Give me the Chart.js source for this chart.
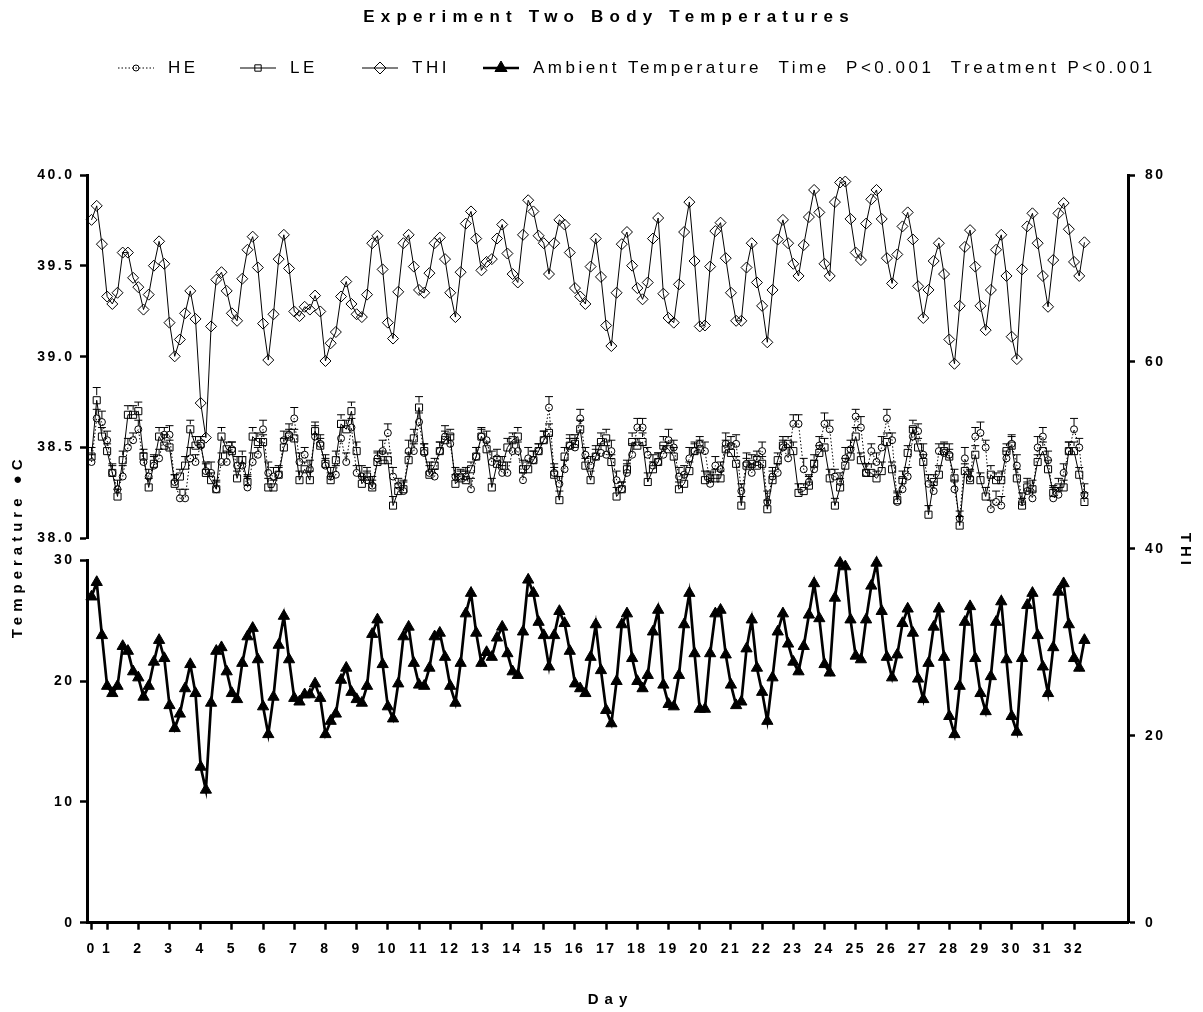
<!DOCTYPE html>
<html>
<head>
<meta charset="utf-8">
<title>Experiment Two Body Temperatures</title>
<script src="https://cdn.jsdelivr.net/npm/chart.js@4.4.1/dist/chart.umd.min.js"></script>
<style>
  html, body { margin: 0; padding: 0; background: #fff; }
</style>
</head>
<body>
<canvas id="chart" width="1203" height="1012"></canvas>
<script>
// x axis: day ticks ("0" sits at noon of the first day, where sampling starts)
const dayTicks = [0.5, 1, 2, 3, 4, 5, 6, 7, 8, 9, 10, 11, 12, 13, 14, 15, 16,
  17, 18, 19, 20, 21, 22, 23, 24, 25, 26, 27, 28, 29, 30, 31, 32];
const dayLabels = ['0', '1', '2', '3', '4', '5', '6', '7', '8', '9', '10', '11', '12', '13', '14', '15', '16',
  '17', '18', '19', '20', '21', '22', '23', '24', '25', '26', '27', '28', '29', '30', '31', '32'];

// body temperature, high-energy group (deg C)
const he = [
  38.42,38.66,38.64,38.54,38.36,38.27,38.34,38.50,38.54,38.60,
  38.42,38.34,38.40,38.44,38.57,38.57,38.31,38.22,38.22,38.44,
  38.42,38.51,38.37,38.36,38.27,38.42,38.42,38.49,38.40,38.40,
  38.28,38.42,38.46,38.60,38.36,38.34,38.35,38.54,38.57,38.66,
  38.42,38.46,38.38,38.56,38.52,38.40,38.34,38.35,38.55,38.42,
  38.61,38.36,38.34,38.32,38.29,38.44,38.48,38.58,38.34,38.29,
  38.26,38.48,38.48,38.64,38.47,38.36,38.34,38.48,38.56,38.52,
  38.34,38.34,38.34,38.27,38.45,38.56,38.54,38.42,38.44,38.36,
  38.36,38.48,38.48,38.32,38.44,38.43,38.48,38.54,38.72,38.36,
  38.30,38.38,38.51,38.50,38.66,38.46,38.40,38.45,38.47,38.46,
  38.48,38.32,38.27,38.36,38.46,38.61,38.61,38.46,38.40,38.42,
  38.46,38.54,38.50,38.34,38.35,38.44,38.48,38.52,38.48,38.30,
  38.40,38.38,38.52,38.51,38.52,38.26,38.41,38.36,38.44,38.48,
  38.20,38.34,38.36,38.50,38.44,38.63,38.63,38.38,38.31,38.38,
  38.51,38.63,38.60,38.34,38.31,38.44,38.49,38.67,38.61,38.36,
  38.48,38.42,38.50,38.66,38.54,38.20,38.27,38.34,38.56,38.59,
  38.46,38.30,38.26,38.48,38.47,38.46,38.27,38.11,38.44,38.33,
  38.56,38.58,38.50,38.16,38.20,38.18,38.44,38.52,38.40,38.20,
  38.26,38.22,38.50,38.56,38.43,38.22,38.24,38.36,38.48,38.60,
  38.50,38.24
];
const heErr = [
  0.04,0.05,0.06,0.05,0.04,0.05,0.06,0.05,0.04,0.05,
  0.05,0.04,0.06,0.05,0.04,0.05,0.04,0.05,0.05,0.06,
  0.04,0.05,0.05,0.06,0.04,0.05,0.06,0.04,0.05,0.05,
  0.06,0.05,0.04,0.05,0.06,0.05,0.04,0.05,0.06,0.06,
  0.05,0.04,0.05,0.06,0.05,0.04,0.05,0.05,0.06,0.05,
  0.05,0.04,0.06,0.05,0.05,0.04,0.06,0.05,0.05,0.04,
  0.05,0.06,0.04,0.05,0.05,0.06,0.04,0.05,0.06,0.05,
  0.05,0.04,0.05,0.06,0.05,0.04,0.05,0.06,0.05,0.04,
  0.06,0.05,0.05,0.04,0.06,0.05,0.04,0.05,0.06,0.05,
  0.04,0.05,0.06,0.05,0.05,0.04,0.05,0.06,0.05,0.05,
  0.06,0.05,0.04,0.05,0.06,0.05,0.05,0.04,0.06,0.05,
  0.05,0.06,0.04,0.05,0.05,0.06,0.05,0.04,0.05,0.06,
  0.05,0.04,0.06,0.05,0.05,0.04,0.06,0.05,0.04,0.05,
  0.06,0.05,0.05,0.04,0.06,0.05,0.05,0.06,0.04,0.05,
  0.05,0.06,0.05,0.04,0.05,0.06,0.05,0.04,0.06,0.05,
  0.04,0.05,0.06,0.05,0.04,0.05,0.06,0.05,0.05,0.04,
  0.06,0.05,0.05,0.04,0.05,0.06,0.05,0.04,0.06,0.05,
  0.05,0.06,0.04,0.05,0.06,0.05,0.04,0.05,0.06,0.05,
  0.05,0.04,0.06,0.05,0.05,0.06,0.04,0.05,0.05,0.06,
  0.05,0.06
];

// body temperature, low-energy group (deg C)
const le = [
  38.45,38.76,38.56,38.48,38.36,38.23,38.43,38.68,38.68,38.70,
  38.45,38.28,38.41,38.56,38.51,38.50,38.30,38.34,38.40,38.60,
  38.51,38.52,38.36,38.32,38.27,38.56,38.49,38.48,38.33,38.43,
  38.31,38.56,38.53,38.53,38.28,38.28,38.35,38.50,38.56,38.55,
  38.32,38.38,38.32,38.59,38.51,38.41,38.32,38.43,38.63,38.60,
  38.70,38.48,38.30,38.34,38.28,38.42,38.43,38.43,38.18,38.26,
  38.27,38.43,38.55,38.72,38.48,38.35,38.40,38.48,38.54,38.56,
  38.30,38.33,38.32,38.38,38.45,38.56,38.49,38.28,38.41,38.40,
  38.50,38.54,38.56,38.38,38.38,38.43,38.48,38.54,38.58,38.35,
  38.21,38.45,38.51,38.52,38.60,38.40,38.32,38.45,38.53,38.55,
  38.42,38.23,38.27,38.38,38.53,38.51,38.53,38.31,38.38,38.42,
  38.51,38.49,38.45,38.27,38.30,38.37,38.48,38.49,38.32,38.33,
  38.33,38.33,38.49,38.47,38.41,38.18,38.40,38.41,38.40,38.41,
  38.16,38.32,38.43,38.51,38.52,38.48,38.25,38.26,38.29,38.41,
  38.47,38.50,38.33,38.18,38.28,38.40,38.45,38.56,38.43,38.36,
  38.36,38.33,38.37,38.53,38.38,38.21,38.32,38.47,38.60,38.50,
  38.42,38.13,38.31,38.35,38.48,38.45,38.33,38.07,38.37,38.32,
  38.46,38.32,38.23,38.35,38.32,38.32,38.48,38.51,38.33,38.18,
  38.28,38.27,38.42,38.48,38.38,38.25,38.28,38.28,38.48,38.48,
  38.35,38.20
];
const leErr = [
  0.05,0.07,0.05,0.04,0.05,0.04,0.05,0.05,0.05,0.05,
  0.04,0.05,0.04,0.05,0.06,0.04,0.05,0.04,0.05,0.05,
  0.05,0.04,0.05,0.04,0.05,0.05,0.04,0.05,0.04,0.05,
  0.04,0.05,0.05,0.04,0.05,0.04,0.05,0.05,0.04,0.05,
  0.05,0.04,0.05,0.05,0.04,0.05,0.04,0.05,0.05,0.05,
  0.05,0.05,0.04,0.05,0.04,0.05,0.05,0.04,0.05,0.04,
  0.05,0.04,0.05,0.06,0.04,0.05,0.04,0.05,0.05,0.04,
  0.05,0.04,0.05,0.04,0.05,0.05,0.04,0.05,0.04,0.05,
  0.05,0.04,0.05,0.05,0.04,0.05,0.04,0.05,0.05,0.04,
  0.05,0.05,0.04,0.05,0.05,0.04,0.05,0.04,0.05,0.05,
  0.04,0.05,0.04,0.05,0.05,0.04,0.05,0.05,0.04,0.05,
  0.05,0.04,0.05,0.04,0.05,0.05,0.04,0.05,0.05,0.04,
  0.05,0.04,0.05,0.05,0.04,0.05,0.04,0.05,0.05,0.04,
  0.05,0.05,0.04,0.05,0.04,0.05,0.05,0.04,0.05,0.05,
  0.04,0.05,0.05,0.04,0.05,0.04,0.05,0.05,0.04,0.05,
  0.05,0.04,0.05,0.05,0.04,0.05,0.05,0.04,0.05,0.05,
  0.04,0.05,0.04,0.05,0.05,0.04,0.05,0.05,0.04,0.05,
  0.05,0.04,0.05,0.05,0.04,0.05,0.04,0.05,0.05,0.04,
  0.05,0.05,0.04,0.05,0.05,0.04,0.05,0.04,0.05,0.05,
  0.04,0.05
];

// temperature-humidity index (right axis)
const thi = [
  75.2,76.7,72.6,67.0,66.2,67.4,71.7,71.7,69.0,68.0,
  65.6,67.2,70.3,72.9,70.5,64.2,60.6,62.4,65.2,67.6,
  64.6,55.6,51.9,63.8,68.8,69.6,67.6,65.2,64.4,68.9,
  72.0,73.4,70.1,64.1,60.2,65.1,71.0,73.6,70.0,65.4,
  64.9,65.9,65.6,67.1,65.4,60.1,62.0,63.2,67.0,68.6,
  66.2,65.1,64.8,67.2,72.7,73.5,69.9,64.2,62.5,67.5,
  72.7,73.6,70.2,67.7,67.4,69.5,72.7,73.3,71.0,67.4,
  64.8,69.6,74.8,76.1,73.2,69.8,70.7,71.0,73.2,74.7,
  71.6,69.4,68.5,73.6,77.3,76.1,73.5,72.7,69.4,72.7,
  75.2,74.7,71.7,67.9,67.0,66.2,70.2,73.2,69.1,63.9,
  61.7,67.4,72.6,73.9,70.3,67.9,66.7,68.5,73.2,75.4,
  67.3,64.7,64.2,68.3,73.9,77.1,70.8,63.8,63.9,70.2,
  74.0,74.9,71.1,67.4,64.4,64.4,70.1,72.7,68.5,66.0,
  62.1,67.7,73.1,75.2,72.7,70.5,69.2,72.5,75.5,78.4,
  76.0,70.5,69.2,77.1,79.2,79.3,75.3,71.7,70.9,74.8,
  77.4,78.4,75.3,71.1,68.4,71.5,74.5,76.0,73.1,68.1,
  64.7,67.7,70.8,72.7,69.4,62.4,59.8,66.0,72.3,74.1,
  70.2,66.0,63.4,67.7,72.0,73.6,69.2,62.7,60.3,69.9,
  74.5,75.9,72.7,69.2,65.9,70.9,75.9,77.0,74.2,70.7,
  69.2,72.8
];

// ambient temperature (deg C, lower left axis)
const ambient = [
  27.0,28.2,23.8,19.6,19.0,19.6,22.9,22.5,20.8,20.3,
  18.7,19.6,21.6,23.4,21.9,18.0,16.1,17.3,19.4,21.4,
  19.0,12.9,11.0,18.2,22.5,22.8,20.8,19.0,18.5,21.5,
  23.7,24.4,21.8,17.9,15.6,18.7,23.0,25.4,21.8,18.6,
  18.3,18.9,18.9,19.8,18.6,15.6,16.7,17.3,20.1,21.1,
  19.1,18.5,18.2,19.6,23.9,25.1,21.4,17.9,16.9,19.8,
  23.7,24.5,21.5,19.7,19.6,21.1,23.7,24.0,22.0,19.6,
  18.2,21.5,25.6,27.3,24.0,21.5,22.4,22.0,23.6,24.5,
  22.3,20.8,20.5,24.1,28.4,27.3,24.9,23.8,21.2,23.8,
  25.8,24.8,22.5,19.8,19.4,19.0,22.0,24.7,20.9,17.6,
  16.5,20.0,24.7,25.6,21.9,20.0,19.4,20.5,24.1,25.9,
  19.7,18.1,17.9,20.5,24.7,27.3,22.3,17.7,17.7,22.3,
  25.6,25.9,22.2,19.7,18.0,18.3,22.7,25.1,21.1,19.1,
  16.7,20.3,24.1,25.6,23.1,21.6,20.8,22.9,25.5,28.1,
  25.2,21.4,20.7,26.9,29.8,29.5,25.1,22.1,21.8,25.1,
  27.9,29.8,25.8,22.0,20.3,22.2,24.8,26.0,24.0,20.2,
  18.5,21.5,24.5,26.0,22.0,17.1,15.6,19.6,24.9,26.2,
  21.9,19.0,17.5,20.4,24.9,26.6,21.8,17.1,15.8,21.9,
  26.3,27.3,23.8,21.2,19.0,22.8,27.4,28.1,24.7,21.9,
  21.1,23.4
];

// one reading every 4 h, starting at noon of day 0
const times = ambient.map((v, i) => 0.5 + i / 6);
const pts = arr => arr.map((v, i) => ({ x: times[i], y: v }));

const FONT = "'Liberation Sans', Arial, Helvetica, sans-serif";
Chart.defaults.font.family = FONT;
Chart.defaults.color = '#000';

const tickFont = { family: FONT, size: 14, weight: 'bold' };
const axisGrid = { display: true, drawOnChartArea: false, drawTicks: true, tickLength: 7, tickWidth: 2.5, tickColor: '#000' };
const axisBorder = { display: true, width: 3, color: '#000' };

// all scale text in the original is letter spaced
const spacing = {
  id: 'spacing',
  beforeDraw(chart) { chart.ctx.letterSpacing = '2.5px'; }
};

// SEM whiskers (upper side only, like the original)
const errorBars = {
  id: 'errorBars',
  afterDatasetsDraw(chart) {
    const ctx = chart.ctx;
    chart.data.datasets.forEach((ds, di) => {
      if (!ds.errors) return;
      const meta = chart.getDatasetMeta(di);
      const scale = chart.scales[ds.yAxisID];
      ctx.save();
      ctx.strokeStyle = '#000';
      ctx.lineWidth = 1;
      meta.data.forEach((pt, i) => {
        const top = scale.getPixelForValue(ds.data[i].y + ds.errors[i]);
        ctx.beginPath();
        ctx.moveTo(pt.x, pt.y - ds.pointRadius);
        ctx.lineTo(pt.x, top);
        ctx.moveTo(pt.x - 4, top);
        ctx.lineTo(pt.x + 4, top);
        ctx.stroke();
      });
      ctx.restore();
    });
  }
};

// title, legend and axis titles, drawn with their own letter spacing
const legendX = [118, 240, 362, 483];
const decorations = {
  id: 'decorations',
  afterDraw(chart) {
    const ctx = chart.ctx;
    const area = chart.chartArea;
    const text = (str, x, y, font, gap, align, rot) => {
      ctx.save();
      ctx.translate(x, y);
      ctx.rotate(rot || 0);
      ctx.font = font;
      ctx.letterSpacing = gap + 'px';
      ctx.fillStyle = '#000';
      ctx.textAlign = align;
      ctx.textBaseline = 'middle';
      ctx.fillText(str, align === 'center' ? gap / 2 : 0, 0);
      ctx.restore();
    };

    text('Experiment Two Body Temperatures', 606, 17, 'bold 17px ' + FONT, 6.2, 'center');

    const ly = 68;
    chart.data.datasets.forEach((ds, i) => {
      const x0 = legendX[i];
      ctx.save();
      ctx.strokeStyle = '#000';
      ctx.lineWidth = ds.borderWidth;
      ctx.setLineDash(ds.borderDash || []);
      ctx.beginPath();
      ctx.moveTo(x0, ly);
      ctx.lineTo(x0 + 36, ly);
      ctx.stroke();
      ctx.setLineDash([]);
      ctx.lineWidth = 1;
      ctx.fillStyle = ds.pointBackgroundColor;
      Chart.helpers.drawPoint(ctx, {
        pointStyle: ds.pointStyle, radius: ds.legendRadius, rotation: 0, borderWidth: 1
      }, x0 + 18, ly);
      ctx.restore();
      text(ds.label, x0 + 50, ly, '17px ' + FONT, 3.5, 'left');
    });

    text('Day', (area.left + area.right) / 2, 1000, 'bold 15px ' + FONT, 6, 'center');
    text('Temperature \u25CFC', 18, (area.top + area.bottom) / 2, 'bold 15px ' + FONT, 5, 'center', -Math.PI / 2);
    text('THI', 1185, (area.top + area.bottom) / 2, 'bold 15px ' + FONT, 4, 'center', Math.PI / 2);
  }
};

new Chart(document.getElementById('chart'), {
  type: 'line',
  data: {
    datasets: [
      {
        label: 'HE', data: pts(he), errors: heErr, yAxisID: 'yBody',
        borderColor: '#000', borderWidth: 1, borderDash: [1.5, 2],
        pointStyle: 'circle', pointRadius: 3.5, legendRadius: 3, pointBorderWidth: 1,
        pointBorderColor: '#000', pointBackgroundColor: 'rgba(0,0,0,0)'
      },
      {
        label: 'LE', data: pts(le), errors: leErr, yAxisID: 'yBody',
        borderColor: '#000', borderWidth: 1,
        pointStyle: 'rect', pointRadius: 5, legendRadius: 4.5, pointBorderWidth: 1,
        pointBorderColor: '#000', pointBackgroundColor: 'rgba(0,0,0,0)'
      },
      {
        label: 'THI', data: pts(thi), yAxisID: 'yThi', clip: false,
        borderColor: '#000', borderWidth: 1,
        pointStyle: 'rectRot', pointRadius: 5.5, legendRadius: 6, pointBorderWidth: 1,
        pointBorderColor: '#000', pointBackgroundColor: 'rgba(0,0,0,0)'
      },
      {
        label: 'Ambient Temperature  Time  P<0.001  Treatment P<0.001', data: pts(ambient), yAxisID: 'yAmb',
        clip: false,
        borderColor: '#000', borderWidth: 2.7,
        pointStyle: 'triangle', pointRadius: 6.5, legendRadius: 7, pointBorderWidth: 1,
        pointBorderColor: '#000', pointBackgroundColor: '#000'
      }
    ]
  },
  options: {
    responsive: false,
    animation: false,
    layout: { padding: { top: 175, left: 0, right: 0, bottom: 0 } },
    plugins: { legend: { display: false }, tooltip: { enabled: false }, title: { display: false } },
    elements: { line: { tension: 0 } },
    scales: {
      x: {
        type: 'linear', position: 'bottom', min: 0.355, max: 33.73,
        afterBuildTicks: axis => { axis.ticks = dayTicks.map(v => ({ value: v })); },
        afterFit: s => { s.height = 89.3; },
        ticks: { autoSkip: false, maxRotation: 0, font: tickFont, padding: 11,
          callback: (v, i) => dayLabels[i] },
        grid: axisGrid, border: axisBorder
      },
      yAmb: {
        type: 'linear', position: 'left', stack: 'left', stackWeight: 362.2, weight: 0,
        min: 0, max: 30,
        afterFit: s => { s.width = 87; },
        ticks: { stepSize: 10, font: tickFont, padding: 5.5 },
        grid: axisGrid, border: axisBorder
      },
      yGap: {
        type: 'linear', position: 'left', stack: 'left', stackWeight: 22.2, weight: 1,
        display: false
      },
      yBody: {
        type: 'linear', position: 'left', stack: 'left', stackWeight: 363.3, weight: 2,
        min: 38, max: 40,
        afterFit: s => { s.width = 87; },
        ticks: { stepSize: 0.5, font: tickFont, padding: 5.5, callback: v => v.toFixed(1) },
        grid: axisGrid, border: axisBorder
      },
      yThi: {
        type: 'linear', position: 'right', min: 0, max: 80,
        afterFit: s => { s.width = 75; },
        ticks: { stepSize: 20, font: tickFont, padding: 10 },
        grid: axisGrid, border: axisBorder
      }
    }
  },
  plugins: [spacing, errorBars, decorations]
});
</script>
</body>
</html>
